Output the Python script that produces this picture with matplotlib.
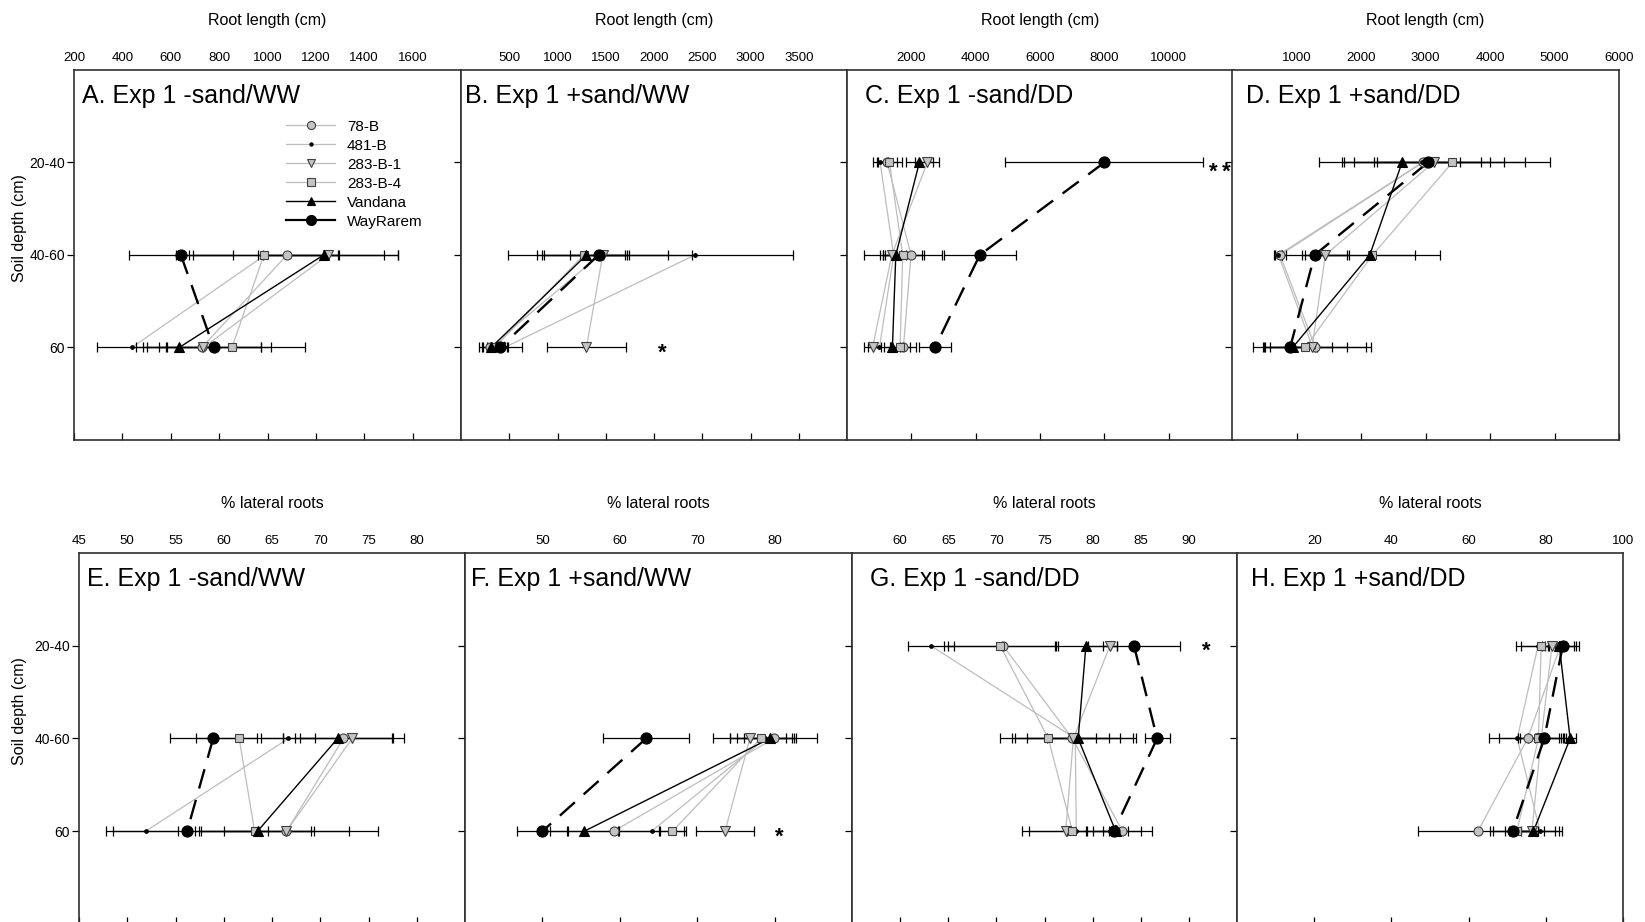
import numpy as np
import matplotlib
matplotlib.use('Agg')
import matplotlib.pyplot as plt
from matplotlib.lines import Line2D

plt.rcParams['font.family'] = ['Liberation Sans', 'DejaVu Sans']

nan = np.nan

# soil depth classes, top to bottom
depths = ['20-40', '40-60', '60']
genotypes = ['78-B', '481-B', '283-B-1', '283-B-4', 'Vandana', 'WayRarem']

# root length (cm), rows follow genotypes, columns follow depths
A_mean = [[nan, 1080, 729], [nan, 990, 439], [nan, 1250, 735],
          [nan, 985, 853], [nan, 1232, 635], [nan, 642, 777]]
A_se = [[nan, 460, 245], [nan, 300, 145], [nan, 290, 280],
        [nan, 310, 300], [nan, 250, 135], [nan, 215, 195]]

B_mean = [[nan, 1440, 296], [nan, 2422, 450], [nan, 1469, 1299],
          [nan, 1272, 347], [nan, 1299, 313], [nan, 1425, 405]]
B_se = [[nan, 950, 110], [nan, 1020, 180], [nan, 680, 410],
        [nan, 430, 130], [nan, 440, 90], [nan, 300, 80]]

C_mean = [[1250, 1991, 1753], [1031, 1450, 1010], [2497, 1393, 794],
          [1320, 1733, 1650], [2249, 1517, 1412], [8000, 4127, 2734]]
C_se = [[300, 950, 400], [230, 935, 370], [370, 280, 250],
        [380, 600, 300], [430, 330, 250], [3075, 1115, 506]]

D_mean = [[2958, 745, 1292], [2950, 720, 1250], [3125, 1448, 1240],
          [3417, 2178, 1136], [2636, 2136, 940], [3037, 1281, 901]]
D_se = [[1260, 90, 780], [1600, 60, 300], [870, 360, 910],
        [1520, 1050, 650], [900, 700, 350], [830, 500, 410]]

# % lateral roots
E_mean = [[nan, 72.4, 66.5], [nan, 66.7, 51.9], [nan, 73.3, 66.5],
          [nan, 61.6, 63.2], [nan, 71.8, 63.5], [nan, 58.9, 56.2]]
E_se = [[nan, 5.0, 9.5], [nan, 2.8, 3.4], [nan, 5.4, 6.5],
        [nan, 4.5, 5.8], [nan, 5.7, 5.9], [nan, 4.5, 8.4]]

F_mean = [[nan, 79.9, 59.2], [nan, 78.8, 64.1], [nan, 76.8, 73.6],
          [nan, 78.2, 66.8], [nan, 79.4, 55.4], [nan, 63.4, 50.0]]
F_se = [[nan, 5.6, 6.0], [nan, 3.7, 4.2], [nan, 4.7, 3.8],
        [nan, 4.0, 1.7], [nan, 3.4, 4.4], [nan, 5.6, 3.3]]

G_mean = [[70.7, 77.9, 83.1], [63.2, 78.2, 78.3], [81.8, 78.0, 77.2],
          [70.4, 75.4, 77.9], [79.3, 78.5, 82.4], [84.3, 86.7, 82.2]]
G_se = [[5.7, 6.3, 3.1], [2.4, 6.3, 1.0], [0.7, 4.8, 4.5],
        [5.8, 5.0, 4.5], [3.2, 3.2, 1.3], [4.8, 1.3, 2.8]]

H_mean = [[83.8, 75.3, 62.4], [78.0, 72.6, 78.5], [81.6, 78.8, 76.4],
          [78.8, 78.1, 72.5], [83.5, 86.3, 76.8], [84.4, 79.6, 71.4]]
H_se = [[4.8, 10.0, 15.6], [4.3, 4.6, 5.0], [1.0, 5.6, 6.0],
        [6.5, 5.2, 7.0], [3.8, 1.5, 7.4], [3.5, 4.3, 5.0]]

panel_titles = ['A. Exp 1 -sand/WW', 'B. Exp 1 +sand/WW', 'C. Exp 1 -sand/DD', 'D. Exp 1 +sand/DD',
                'E. Exp 1 -sand/WW', 'F. Exp 1 +sand/WW', 'G. Exp 1 -sand/DD', 'H. Exp 1 +sand/DD']
x_titles = ['Root length (cm)'] * 4 + ['% lateral roots'] * 4
x_limits = [(200, 1800), (0, 4000), (0, 12000), (0, 6000),
            (45, 85), (40, 90), (55, 95), (0, 100)]
x_ticks = [list(range(200, 1601, 200)), list(range(500, 3501, 500)),
           list(range(2000, 10001, 2000)), list(range(1000, 6001, 1000)),
           list(range(45, 81, 5)), list(range(50, 81, 10)),
           list(range(60, 91, 5)), list(range(20, 101, 20))]

# significance marks: panel index, x value, depth position, text
star_panel = [1, 2, 5, 6]
star_x = [2083, 11600, 80.6, 91.8]
star_y = [3.0, 1.05, 3.0, 1.0]
star_text = ['*', '*\u2009*', '*', '*']

means = [A_mean, B_mean, C_mean, D_mean, E_mean, F_mean, G_mean, H_mean]
ses = [A_se, B_se, C_se, D_se, E_se, F_se, G_se, H_se]

# line / marker looks per genotype
gray = '#bdbdbd'
fillg = '#c4c4c4'
styles = {
    '78-B':     dict(lc=gray, lw=0.9, ls='-', m='o', ms=6.5, mfc=fillg, mec='#404040'),
    '481-B':    dict(lc=gray, lw=0.9, ls='-', m='o', ms=2.6, mfc='black', mec='black'),
    '283-B-1':  dict(lc=gray, lw=0.9, ls='-', m='v', ms=7, mfc=fillg, mec='#404040'),
    '283-B-4':  dict(lc=gray, lw=0.9, ls='-', m='s', ms=6.2, mfc=fillg, mec='#404040'),
    'Vandana':  dict(lc='black', lw=1.0, ls='-', m='^', ms=7, mfc='black', mec='black'),
    'WayRarem': dict(lc='black', lw=1.7, ls=(0, (8.5, 5)), m='o', ms=8, mfc='black', mec='black'),
}

W, H = 1645, 922
fig = plt.figure(figsize=(W / 100, H / 100), dpi=100)

# axes boxes in pixels (left, top, width, height)
boxes = [(74, 70, 387, 370), (461, 70, 386, 370), (847, 70, 386, 370), (1232, 70, 387, 370),
         (79, 553, 386, 371), (465, 553, 387, 371), (852, 553, 385, 371), (1237, 553, 386, 371)]
title_x = [0.021, 0.01, 0.047, 0.035, 0.02, 0.015, 0.047, 0.035]

ypos = np.array([1, 2, 3])
for i in range(8):
    l, t, w, h = boxes[i]
    ax = fig.add_axes([l / W, 1 - (t + h) / H, w / W, h / H])
    mean = np.array(means[i], dtype=float)
    se = np.array(ses[i], dtype=float)

    order = [0, 1, 2, 3, 4, 5]
    for k in order:
        st = styles[genotypes[k]]
        ax.plot(mean[k], ypos, color=st['lc'], lw=st['lw'], ls=st['ls'],
                zorder=2 if st['lc'] == 'black' else 1)
    for k in order:
        ax.errorbar(mean[k], ypos, xerr=se[k], fmt='none', ecolor='black',
                    elinewidth=0.9, capsize=3.6, capthick=0.9, zorder=3)
    for k in order:
        st = styles[genotypes[k]]
        ax.plot(mean[k], ypos, ls='none', marker=st['m'], ms=st['ms'],
                mfc=st['mfc'], mec=st['mec'], mew=0.8, zorder=4 + (k >= 4))

    ax.set_xlim(*x_limits[i])
    ax.set_ylim(4, 0)
    ax.set_xticks(x_ticks[i])
    ax.set_yticks(ypos)
    ax.xaxis.set_label_position('top')
    ax.set_xlabel(x_titles[i], fontsize=11.5, labelpad=20)
    ax.tick_params(axis='x', top=False, bottom=True, labeltop=True, labelbottom=False,
                   direction='in', length=5, width=0.9, labelsize=9.5, pad=4)
    if i % 4 == 0:
        ax.set_yticklabels(depths)
        ax.tick_params(axis='y', labelleft=True)
    else:
        ax.tick_params(axis='y', labelleft=False)
    ax.tick_params(axis='y', direction='out', length=5, width=0.9, labelsize=10, pad=1.5, right=False)
    for sp in ax.spines.values():
        sp.set_linewidth(1.2)
        sp.set_color('#303030')

    ax.text(title_x[i], 0.931, panel_titles[i], transform=ax.transAxes,
            fontsize=18, va='center', ha='left')

    for j in range(len(star_panel)):
        if star_panel[j] == i:
            # shift down a bit: the asterisk glyph sits high in its box
            ax.annotate(star_text[j], (star_x[j], star_y[j]), xytext=(0, -4),
                        textcoords='offset points', fontsize=16, fontweight='bold',
                        ha='center', va='center')

    if i == 0:
        handles = []
        for g in genotypes:
            st = styles[g]
            handles.append(Line2D([], [], color=st['lc'], lw=st['lw'] if g != 'WayRarem' else 1.6,
                                  ls='-', marker=st['m'], ms=st['ms'] * 0.9,
                                  mfc=st['mfc'], mec=st['mec'], mew=0.8))
        ax.legend(handles, genotypes, loc='upper left', bbox_to_anchor=(0.549, 0.866),
                  frameon=False, fontsize=11, handlelength=3.2, handletextpad=0.75,
                  labelspacing=0.33, borderpad=0, borderaxespad=0, numpoints=1)

fig.text(20 / W, 1 - 228 / H, 'Soil depth (cm)', rotation=90, fontsize=11.5, ha='center', va='center')
fig.text(20 / W, 1 - 711 / H, 'Soil depth (cm)', rotation=90, fontsize=11.5, ha='center', va='center')

fig.savefig('out.png', dpi=100)
